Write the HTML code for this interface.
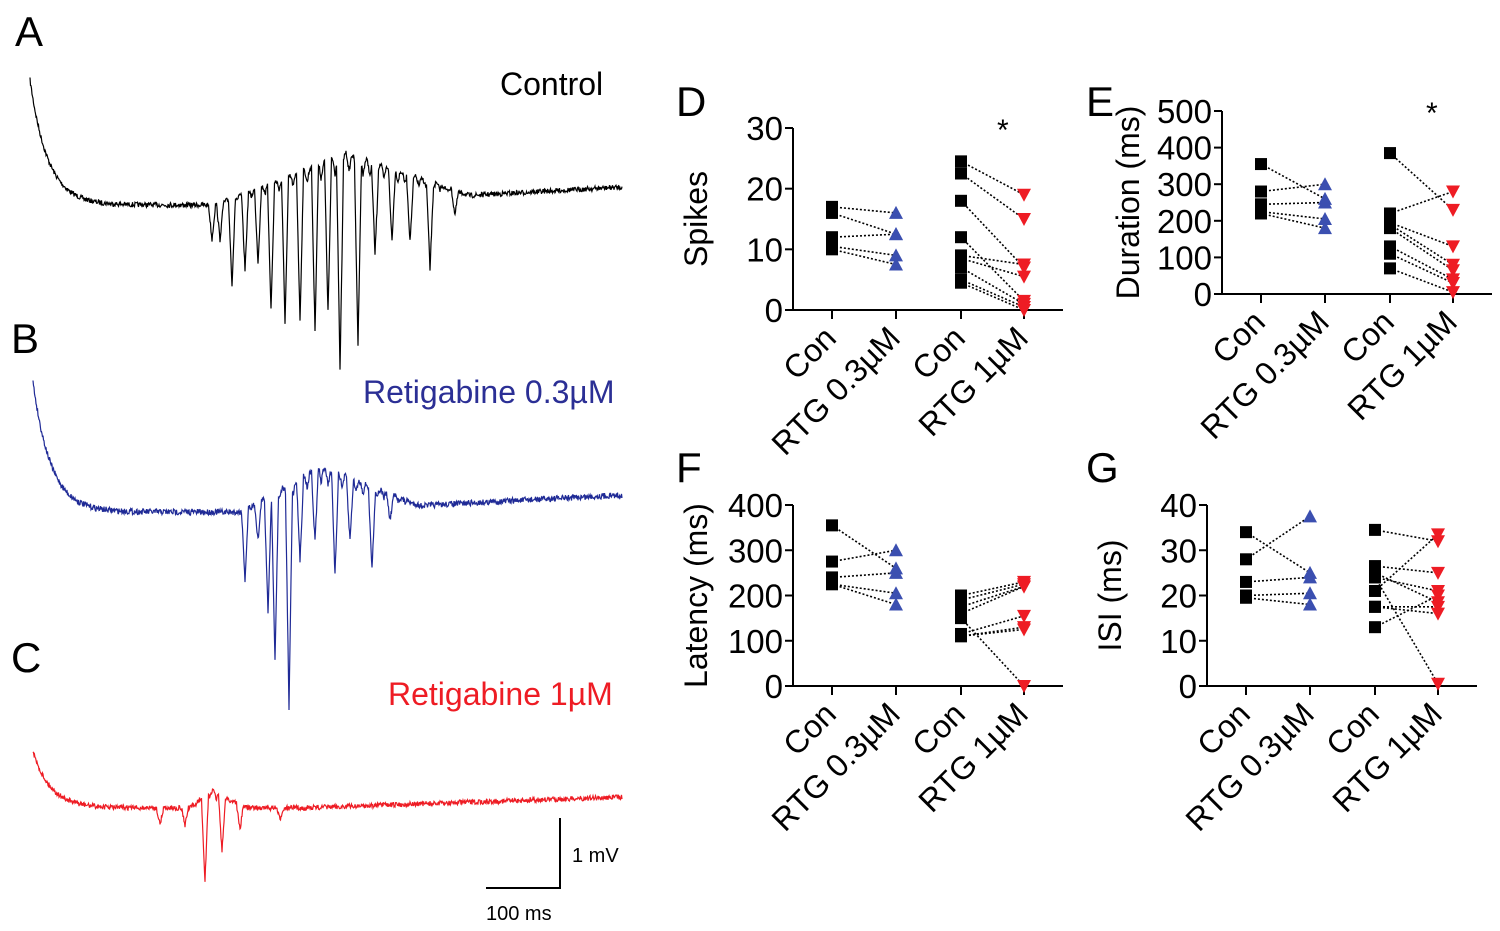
<!DOCTYPE html>
<html><head><meta charset="utf-8"><style>
html,body{margin:0;padding:0;background:#fff;}
svg{display:block;font-family:"Liberation Sans",Arial,sans-serif;}
</style></head><body>
<svg id="fig" width="1500" height="931" viewBox="0 0 1500 931">
<g id="traces"></g>
<g id="charts"></g>
<text x="15" y="46" font-size="42">A</text>
<text x="11" y="353" font-size="42">B</text>
<text x="11" y="672" font-size="42">C</text>
<text x="676" y="116" font-size="42">D</text>
<text x="1086" y="116" font-size="42">E</text>
<text x="676" y="482" font-size="42">F</text>
<text x="1086" y="482" font-size="42">G</text>
<text x="500" y="95" font-size="32">Control</text>
<text x="363" y="403" font-size="32" fill="#2b2f95">Retigabine 0.3µM</text>
<text x="388" y="705" font-size="32" fill="#ee1c24">Retigabine 1µM</text>
<path d="M560 818 V888 H486" fill="none" stroke="#000" stroke-width="2"/>
<text x="572" y="862" font-size="20">1 mV</text>
<text x="486" y="920" font-size="20">100 ms</text>
</svg>
<script>
// ---- chart data ----
const categories = ["Con","RTG 0.3µM","Con","RTG 1µM"];
const spikesLow = [[17,16],[16,12.5],[12,12.5],[10.5,9],[10,7.5]];
const spikesHigh = [[24.5,19],[22.5,15],[18,7],[12,1.5],[9,7.5],[8.5,5.5],[7,1],[5,0.5],[4.5,0]];
const durLow = [[355,260],[280,300],[245,250],[225,205],[220,180]];
const durHigh = [[385,230],[220,280],[195,130],[190,80],[180,65],[130,40],[110,30],[70,5]];
const latLow = [[355,260],[275,300],[240,250],[225,205],[225,180]];
const latHigh = [[200,230],[190,225],[175,220],[160,220],[150,0],[115,155],[110,130],[110,125]];
const isiLow = [[34,25],[28,37.5],[23,24],[20,20.5],[19.5,18]];
const isiHigh = [[34.5,32],[26.5,25],[25,18.5],[24,21],[21,33.5],[17.5,17.5],[17.5,16],[13,20],[24,0.5]];
const dTicks=[0,10,20,30], eTicks=[0,100,200,300,400,500], fTicks=[0,100,200,300,400], gTicks=[0,10,20,30,40];

const NS="http://www.w3.org/2000/svg";
function mk(tag,attrs,parent){const e=document.createElementNS(NS,tag);for(const k in attrs)e.setAttribute(k,attrs[k]);parent.appendChild(e);return e;}
const charts=document.getElementById('charts');

function panel(o){
  const g=mk('g',{},charts);
  
  
  const y=v=>o.y0-(v/o.max)*(o.y0-o.ytop);
  const xs=[o.x0+39,o.x0+103,o.x0+168,o.x0+231];
  mk('line',{x1:o.x0,y1:o.y0,x2:o.x0,y2:o.ytop,stroke:'#000','stroke-width':2},g);
  mk('line',{x1:o.x0,y1:o.y0,x2:o.x0+270,y2:o.y0,stroke:'#000','stroke-width':2},g);
  o.ticks.forEach(t=>{
    mk('line',{x1:o.x0-8,x2:o.x0,y1:y(t),y2:y(t),stroke:'#000','stroke-width':2},g);
    const tx=mk('text',{x:o.x0-10,y:y(t)+12,'font-size':33,'text-anchor':'end'},g);tx.textContent=t;
    
    
  });
  xs.forEach((x,i)=>{
    mk('line',{x1:x,x2:x,y1:o.y0,y2:o.y0+9,stroke:'#000','stroke-width':2},g);
    const tx=mk('text',{x:x+6,y:o.y0+30,'font-size':32,'text-anchor':'end',transform:`rotate(-45 ${x+6} ${o.y0+30})`},g);
    tx.textContent=categories[i];
    
    
  });
  const yt=mk('text',{x:0,y:0,'font-size':32,'text-anchor':'middle',transform:`translate(${o.titleX} ${(o.y0+o.ytop)/2}) rotate(-90)`},g);
  yt.textContent=o.title;
  
  
  if(o.star){const s=mk('text',{x:xs[3]-27,y:o.ytop+12,'font-size':30},g);s.textContent='*';
    
    }
  [[o.low,0,1,'#3b4fb0','up'],[o.high,2,3,'#ee1c24','down']].forEach(([pairs,a,b,col,dir])=>{
    pairs.forEach(p=>mk('line',{x1:xs[a],y1:y(p[0]),x2:xs[b],y2:y(p[1]),stroke:'#000','stroke-width':1.6,'stroke-dasharray':'2 2'},g));
    pairs.forEach(p=>{
      const r=mk('rect',{x:xs[a]-6,y:y(p[0])-6,width:12,height:12,fill:'#000'},g);
      
      
      const X=xs[b],Y=y(p[1]);
      const pts=dir==='up'?`${X-7},${Y+6} ${X+7},${Y+6} ${X},${Y-7}`:`${X-7},${Y-6} ${X+7},${Y-6} ${X},${Y+7}`;
      const t=mk('polygon',{points:pts,fill:col},g);
      
      
    });
  });
}
panel({name:'panel-d-spikes',x0:793,y0:310,ytop:128,max:30,ticks:dTicks,title:'Spikes',titleX:707,low:spikesLow,high:spikesHigh,star:true});
panel({name:'panel-e-duration',x0:1222,y0:294,ytop:111,max:500,ticks:eTicks,title:'Duration (ms)',titleX:1139,low:durLow,high:durHigh,star:true});
panel({name:'panel-f-latency',x0:793,y0:686,ytop:505,max:400,ticks:fTicks,title:'Latency (ms)',titleX:707,low:latLow,high:latHigh});
panel({name:'panel-g-isi',x0:1207,y0:686,ytop:505,max:40,ticks:gTicks,title:'ISI (ms)',titleX:1121,low:isiLow,high:isiHigh});

// ---- traces (illustrative) ----
const ctrlSpikes=[[212,240],[220,240],[232,285],[245,270],[258,262],[271,310],[285,322],[300,320],[315,330],[328,312],[340,372],[358,345],[375,255],[392,240],[410,242],[430,270],[455,215]];
const blueSpikes=[[245,580],[258,540],[268,612],[275,662],[289,710],[300,560],[315,540],[335,575],[350,540],[372,570],[390,520]];
const redSpikes=[[160,825],[185,825],[205,882],[222,852],[240,830],[280,820]];
let seed=7;function rnd(){seed=(seed*16807)%2147483647;return seed/2147483647-0.5;}
const tr=document.getElementById('traces');
function trace(name,col,x0,yStart,base,baseEnd,upAmp,upStart,upPeak,upEnd,spikes,noise){
  let d='';
  for(let x=x0;x<=622;x+=0.5){
    let b=base+(baseEnd-base)*Math.max(0,(x-300)/322);
    let v=b+(yStart-base)*Math.exp(-(x-x0)/18);
    if(x>upStart&&x<upEnd){const t=x<upPeak?(x-upStart)/(upPeak-upStart):(upEnd-x)/(upEnd-upPeak);v-=upAmp*t*(0.6+0.4*Math.abs(Math.sin(x*0.45)));}
    spikes.forEach(s=>{const dx=Math.abs(x-s[0]);if(dx<3.5){v+=(s[1]-v)*(1-dx/3.5);}});
    v+=rnd()*noise;
    d+=(d?'L':'M')+x.toFixed(1)+' '+v.toFixed(1);
  }
  const p=mk('path',{d:d,fill:'none',stroke:col,'stroke-width':1.2},tr);
  
  
}
trace('control-trace','#000',30,80,205,187,50,215,345,470,ctrlSpikes,5);
trace('rtg03-trace','#1f2a96',33,382,512,495,45,240,320,420,blueSpikes,6);
trace('rtg1-trace','#ee1c24',33,752,808,797,18,190,210,250,redSpikes,5);
</script>
</body></html>
